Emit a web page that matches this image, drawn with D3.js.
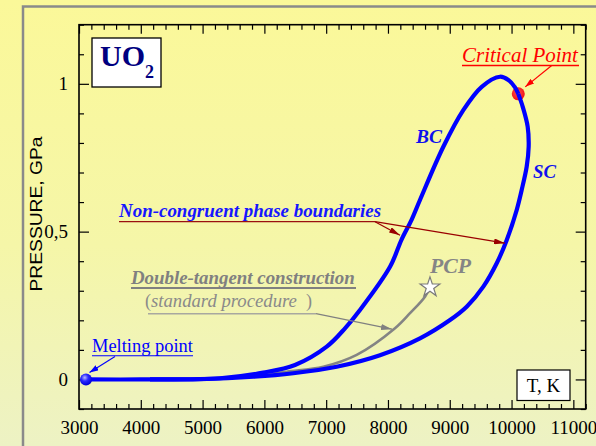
<!DOCTYPE html>
<html>
<head>
<meta charset="utf-8">
<script src="https://cdn.jsdelivr.net/npm/d3@7/dist/d3.min.js"></script>
<style>
  html, body { margin: 0; padding: 0; background: #f4f5ae; }
  svg { display: block; }
  text { font-family: "Liberation Serif", "Times New Roman", serif; }
</style>
</head>
<body>
<svg id="chart" width="596" height="446"></svg>
<script>
// UO2 phase diagram: pressure (GPa) vs temperature (K)

// Boiling curve (BC), from the melting point up to the critical point
const bcT = [3113, 4000, 5282, 5983, 6496, 7009, 7305, 7547, 8033, 8222, 8384, 8518, 8896, 9219, 9517, 9813, 9948, 10056, 10109];
const bcP = [0, 0, 0.004, 0.023, 0.049, 0.111, 0.173, 0.235, 0.381, 0.474, 0.541, 0.607, 0.787, 0.911, 0.990, 1.024, 1.013, 0.988, 0.966];

// Saturation curve (SC), from the critical point back down to low temperature
const scT = [10109, 10180, 10261, 10277, 10245, 10164, 10083, 9921, 9760, 9543, 9274, 9004, 8518, 7871, 7170, 6468, 5821, 4958, 4149];
const scP = [0.966, 0.923, 0.855, 0.787, 0.720, 0.641, 0.573, 0.471, 0.393, 0.314, 0.246, 0.201, 0.139, 0.082, 0.043, 0.021, 0.009, 0.001, 0];

// Double-tangent construction (standard procedure), ending at the PCP
const dtT = [5800, 6361, 6954, 7494, 8114, 8357, 8599, 8680];
const dtP = [0.010, 0.026, 0.043, 0.083, 0.173, 0.224, 0.280, 0.312];

// Special points
const criticalPoint = [10109, 0.966];
const meltingPoint = [3113, 0];
const pcpPoint = [8680, 0.312];

// Axis ticks
const xMajor = [3000, 4000, 5000, 6000, 7000, 8000, 9000, 10000, 11000];
const xMinorStep = 200;
const yMajor = [0, 0.5, 1];
const yMajorLabels = ["0", "0,5", "1"];
const yMinorStep = 0.1;

const xDomain = [3000, 11200];
const yDomain = [-0.1, 1.2];

const svg = d3.select("#chart");
const W = 596, H = 446;
const plot = { left: 79, right: 585.7, top: 24.7, bottom: 409 };

const x = d3.scaleLinear().domain(xDomain).range([plot.left, plot.right]);
const y = d3.scaleLinear().domain(yDomain).range([plot.bottom, plot.top]);

const defs = svg.append("defs");

// background gradient
const bg = defs.append("linearGradient").attr("id", "bg").attr("x1", 0).attr("y1", 0).attr("x2", 0).attr("y2", 1);
bg.append("stop").attr("offset", "0%").attr("stop-color", "#fbf899");
bg.append("stop").attr("offset", "55%").attr("stop-color", "#f5f6a8");
bg.append("stop").attr("offset", "100%").attr("stop-color", "#edf2c4");

// sphere shading for point markers
const blueBall = defs.append("radialGradient").attr("id", "blueBall").attr("cx", "40%").attr("cy", "35%").attr("r", "65%");
blueBall.append("stop").attr("offset", "0%").attr("stop-color", "#b8b8ff");
blueBall.append("stop").attr("offset", "45%").attr("stop-color", "#2a2aff");
blueBall.append("stop").attr("offset", "100%").attr("stop-color", "#0000d8");

const redBall = defs.append("radialGradient").attr("id", "redBall").attr("cx", "45%").attr("cy", "40%").attr("r", "60%");
redBall.append("stop").attr("offset", "0%").attr("stop-color", "#ff5050");
redBall.append("stop").attr("offset", "100%").attr("stop-color", "#f01010");

function arrowMarker(id, color, len, wid) {
  defs.append("marker")
    .attr("id", id)
    .attr("viewBox", `0 0 ${len} ${wid}`)
    .attr("refX", len).attr("refY", wid / 2)
    .attr("markerWidth", len).attr("markerHeight", wid)
    .attr("markerUnits", "userSpaceOnUse")
    .attr("orient", "auto")
    .append("path")
    .attr("d", `M0,0 L${len},${wid / 2} L0,${wid} Z`)
    .attr("fill", color);
}
arrowMarker("arrRed", "#9a0000", 11, 6);
arrowMarker("arrBright", "#ff0000", 9, 6);
arrowMarker("arrBlue", "#0000ff", 9, 6);
arrowMarker("arrGray", "#808080", 11, 6);

svg.append("rect").attr("width", W).attr("height", H).attr("fill", "url(#bg)");

// panel frame
svg.append("path")
  .attr("d", `M23,${H + 5} L23,6.5 L${W + 5},6.5`)
  .attr("fill", "none").attr("stroke", "#8a8a8a").attr("stroke-width", 2.5);

// ---- axes ----
const xMinor = d3.range(xDomain[0], xDomain[1] + 1, xMinorStep).filter(v => !xMajor.includes(v));
const yMinor = d3.range(-1, 13).map(i => +(i * yMinorStep).toFixed(2)).filter(v => !yMajor.includes(v));

function styleAxis(g) {
  g.select(".domain").remove();
  g.selectAll(".tick line").attr("stroke", "#000").attr("stroke-width", 1.2);
  g.selectAll(".tick text").attr("fill", "#000").style("font-family", "'Liberation Serif', serif").style("font-size", "19px");
}

svg.append("g").attr("transform", `translate(0,${plot.bottom})`)
  .call(d3.axisBottom(x).tickValues(xMajor).tickSize(-9).tickPadding(12).tickFormat(d3.format("d")))
  .call(styleAxis);
svg.append("g").attr("transform", `translate(0,${plot.bottom})`)
  .call(d3.axisBottom(x).tickValues(xMinor).tickSize(-5).tickFormat(""))
  .call(styleAxis);
svg.append("g").attr("transform", `translate(0,${plot.top})`)
  .call(d3.axisTop(x).tickValues(xMajor).tickSize(-9).tickFormat(""))
  .call(styleAxis);
svg.append("g").attr("transform", `translate(0,${plot.top})`)
  .call(d3.axisTop(x).tickValues(xMinor).tickSize(-5).tickFormat(""))
  .call(styleAxis);

svg.append("g").attr("transform", `translate(${plot.left},0)`)
  .call(d3.axisLeft(y).tickValues(yMajor).tickSize(-10).tickPadding(11).tickFormat((d, i) => yMajorLabels[i]))
  .call(styleAxis);
svg.append("g").attr("transform", `translate(${plot.left},0)`)
  .call(d3.axisLeft(y).tickValues(yMinor).tickSize(-5).tickFormat(""))
  .call(styleAxis);
svg.append("g").attr("transform", `translate(${plot.right},0)`)
  .call(d3.axisRight(y).tickValues(yMajor).tickSize(-10).tickFormat(""))
  .call(styleAxis);
svg.append("g").attr("transform", `translate(${plot.right},0)`)
  .call(d3.axisRight(y).tickValues(yMinor).tickSize(-5).tickFormat(""))
  .call(styleAxis);

svg.append("rect")
  .attr("x", plot.left).attr("y", plot.top)
  .attr("width", plot.right - plot.left).attr("height", plot.bottom - plot.top)
  .attr("fill", "none").attr("stroke", "#000").attr("stroke-width", 1.6);

// y axis title
svg.append("text")
  .attr("transform", `translate(41.5,214) rotate(-90)`)
  .attr("text-anchor", "middle")
  .attr("textLength", 155).attr("lengthAdjust", "spacingAndGlyphs")
  .style("font-family", "'Liberation Sans', Arial, sans-serif")
  .style("font-size", "16px")
  .attr("fill", "#000")
  .text("PRESSURE, GPa");

// ---- curves ----
const line = d3.line().x(d => x(d[0])).y(d => y(d[1])).curve(d3.curveCatmullRom.alpha(0.5));
const zip = (a, b) => a.map((v, i) => [v, b[i]]);

// critical point marker sits under the curve
svg.append("circle")
  .attr("cx", x(criticalPoint[0])).attr("cy", y(criticalPoint[1])).attr("r", 6.5)
  .attr("fill", "url(#redBall)");

svg.append("path").datum(zip(dtT, dtP))
  .attr("d", line).attr("fill", "none").attr("stroke", "#848484").attr("stroke-width", 2.6);

svg.append("path").datum(zip(scT, scP))
  .attr("d", line).attr("fill", "none").attr("stroke", "#0000ff").attr("stroke-width", 4.2).attr("stroke-linejoin", "round");
svg.append("path").datum(zip(bcT, bcP))
  .attr("d", line).attr("fill", "none").attr("stroke", "#0000ff").attr("stroke-width", 4.2).attr("stroke-linejoin", "round");

svg.append("circle")
  .attr("cx", x(meltingPoint[0])).attr("cy", y(meltingPoint[1])).attr("r", 6)
  .attr("fill", "url(#blueBall)");

// PCP star
const star = d3.symbol().type(d3.symbolStar).size(120);
svg.append("path")
  .attr("d", star())
  .attr("transform", `translate(${x(pcpPoint[0])},${y(pcpPoint[1])})`)
  .attr("fill", "#fff").attr("stroke", "#7a7a7a").attr("stroke-width", 1.2);

// ---- labels ----
function label(txt, opts) {
  const t = svg.append("text")
    .attr("x", opts.x).attr("y", opts.y)
    .attr("fill", opts.color || "#000")
    .style("font-size", (opts.size || 18) + "px")
    .style("font-weight", opts.bold ? "bold" : "normal")
    .style("font-style", opts.italic ? "italic" : "normal")
    .attr("text-anchor", opts.anchor || "start")
    .text(txt);
  if (opts.width) {
    const w = t.node().getComputedTextLength();
    t.style("font-size", ((opts.size || 18) * opts.width / w).toFixed(2) + "px");
  }
  return t;
}
function underline(x1, x2, yy, color, w) {
  svg.append("line").attr("x1", x1).attr("x2", x2).attr("y1", yy).attr("y2", yy)
    .attr("stroke", color).attr("stroke-width", w || 1.2);
}
function arrow(x1, y1, x2, y2, color, marker, w) {
  svg.append("line").attr("x1", x1).attr("y1", y1).attr("x2", x2).attr("y2", y2)
    .attr("stroke", color).attr("stroke-width", w || 1.2)
    .attr("marker-end", `url(#${marker})`);
}

// compound name box
svg.append("rect").attr("x", 92).attr("y", 38).attr("width", 69).attr("height", 49)
  .attr("fill", "#fff").attr("stroke", "#000").attr("stroke-width", 1.3);
label("UO", { x: 100, y: 66, size: 30, bold: true, color: "#000080", width: 45 });
label("2", { x: 145, y: 78, size: 18, bold: true, color: "#000080" });

// critical point annotation
label("Critical Point", { x: 462, y: 61.5, size: 19, italic: true, color: "#ff0000", width: 116 });
underline(462, 579, 65.5, "#ff0000", 1.3);
arrow(551.7, 65.5, x(criticalPoint[0]) + 7, y(criticalPoint[1]) - 7, "#ff0000", "arrBright", 1.2);

// curve names
label("BC", { x: 416, y: 143, size: 18, bold: true, italic: true, color: "#1010ee", width: 26 });
label("SC", { x: 533, y: 178, size: 18, bold: true, italic: true, color: "#1010ee", width: 23 });
label("PCP", { x: 430, y: 273, size: 20, bold: true, italic: true, color: "#858585", width: 41 });

// non-congruent boundaries
label("Non-congruent phase boundaries", { x: 119, y: 216.5, size: 18, bold: true, italic: true, color: "#1515ff", width: 262 });
underline(119, 375, 221.7, "#9a1010", 1.3);
arrow(375, 221.7, x(8195), y(0.488), "#9a0000", "arrRed", 1.2);
arrow(375, 221.7, x(9894), y(0.461), "#9a0000", "arrRed", 1.2);

// double tangent construction
label("Double-tangent construction", { x: 131, y: 284, size: 18, bold: true, italic: true, color: "#808080", width: 224 });
underline(131, 356, 288, "#808080", 2);
label("(", { x: 145, y: 307, size: 18, color: "#8a8a8a" });
label("standard procedure", { x: 151, y: 307, size: 18, italic: true, color: "#8a8a8a", width: 146 });
label(")", { x: 306, y: 307, size: 18, color: "#8a8a8a" });
underline(148, 316, 313.7, "#a8a8a0", 1.5);
arrow(316, 313.7, x(8065), y(0.17), "#808080", "arrGray", 1.2);

// melting point annotation
label("Melting point", { x: 92, y: 352, size: 18, color: "#0000ff", width: 101 });
underline(92, 193, 355.8, "#0000ff", 1.1);
arrow(115, 356.5, x(meltingPoint[0]) + 3.5, y(meltingPoint[1]) - 7, "#0000ff", "arrBlue", 1.1);

// x axis title box
svg.append("rect").attr("x", 517).attr("y", 370).attr("width", 53).attr("height", 30.5)
  .attr("fill", "#fff").attr("stroke", "#000").attr("stroke-width", 1.2);
label("T, K", { x: 543.5, y: 392, size: 19, anchor: "middle" });
</script>
</body>
</html>
